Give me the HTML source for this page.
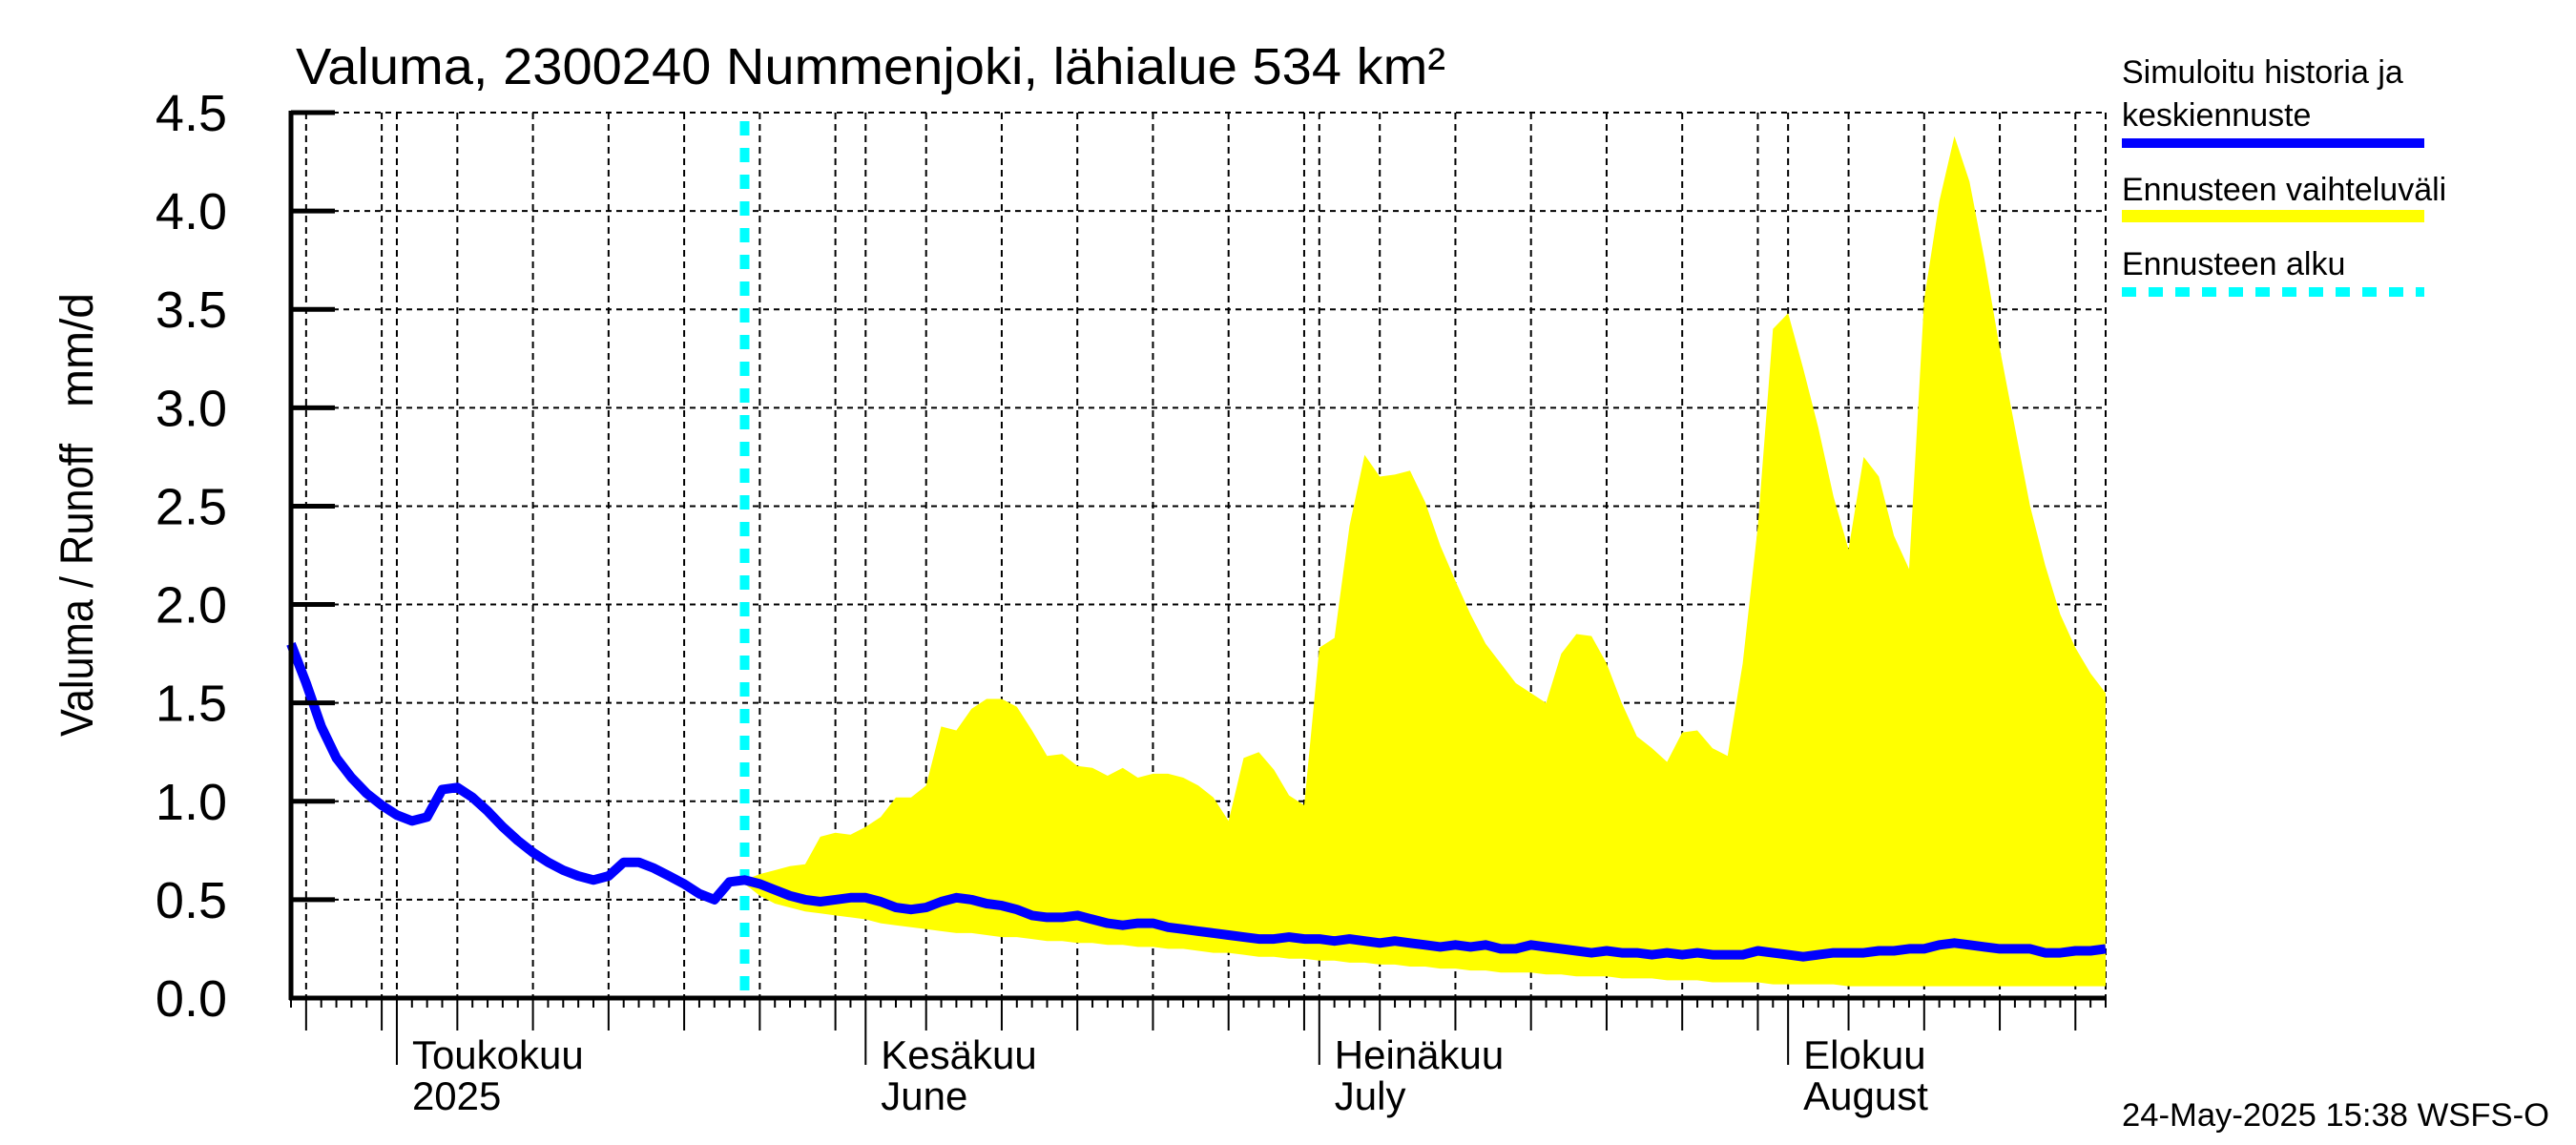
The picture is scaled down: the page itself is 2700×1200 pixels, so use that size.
<!DOCTYPE html>
<html><head><meta charset="utf-8"><style>
html,body{margin:0;padding:0;background:#fff;}
svg{display:block;font-family:"Liberation Sans",sans-serif;}
</style></head><body>
<svg id="chart" width="2700" height="1200" viewBox="0 0 2700 1200" xmlns="http://www.w3.org/2000/svg">
<rect x="0" y="0" width="2700" height="1200" fill="#fff"/>
<g id="grid"></g>
<g id="band"></g>
<g id="series"></g>
<g id="axes"></g>
<text x="310" y="88" font-size="54" textLength="1205" lengthAdjust="spacingAndGlyphs">Valuma, 2300240 Nummenjoki, lähialue 534 km²</text>
<text transform="translate(97,772) rotate(-90)" font-size="48" textLength="307" lengthAdjust="spacingAndGlyphs">Valuma / Runoff</text>
<text transform="translate(97,427) rotate(-90)" font-size="48" textLength="120" lengthAdjust="spacingAndGlyphs">mm/d</text>
<g>
<text x="2224" y="87" font-size="34">Simuloitu historia ja</text>
<text x="2224" y="132" font-size="34">keskiennuste</text>
<rect x="2224" y="145" width="317" height="10" fill="#0000ff"/>
<text x="2224" y="210" font-size="34">Ennusteen vaihteluväli</text>
<rect x="2224" y="220" width="317" height="13" fill="#ffff00"/>
<text x="2224" y="288" font-size="34">Ennusteen alku</text>
<line x1="2224" y1="306" x2="2541" y2="306" stroke="#00ffff" stroke-width="10" stroke-dasharray="15 13"/>
</g>
<text x="2224" y="1180" font-size="34" textLength="448" lengthAdjust="spacingAndGlyphs">24-May-2025 15:38 WSFS-O</text>
</svg>
<script>
// Daily values starting 2025-04-24 (day 0)
const meanValues = [1.80,1.60,1.38,1.22,1.12,1.04,0.98,0.93,0.90,0.92,
1.06,1.07,1.02,0.95,0.87,0.80,0.74,0.69,0.65,0.62,
0.60,0.62,0.69,0.69,0.66,0.62,0.58,0.53,0.50,0.59,
0.60,0.58,0.55,0.52,0.50,0.49,0.50,0.51,0.51,0.49,
0.46,0.45,0.46,0.49,0.51,0.50,0.48,0.47,0.45,0.42,
0.41,0.41,0.42,0.40,0.38,0.37,0.38,0.38,0.36,0.35,
0.34,0.33,0.32,0.31,0.30,0.30,0.31,0.30,0.30,0.29,
0.30,0.29,0.28,0.29,0.28,0.27,0.26,0.27,0.26,0.27,
0.25,0.25,0.27,0.26,0.25,0.24,0.23,0.24,0.23,0.23,
0.22,0.23,0.22,0.23,0.22,0.22,0.22,0.24,0.23,0.22,
0.21,0.22,0.23,0.23,0.23,0.24,0.24,0.25,0.25,0.27,
0.28,0.27,0.26,0.25,0.25,0.25,0.23,0.23,0.24,0.24,0.25];
const forecastStartDay = 30;
const bandUpper = [0.60,0.63,0.65,0.67,0.68,0.82,0.84,0.83,0.87,0.92,
1.02,1.02,1.08,1.38,1.36,1.47,1.52,1.52,1.48,1.36,
1.23,1.24,1.18,1.17,1.13,1.17,1.12,1.14,1.14,1.12,
1.08,1.02,0.90,1.22,1.25,1.16,1.03,0.98,1.78,1.83,
2.40,2.76,2.65,2.66,2.68,2.52,2.30,2.12,1.95,1.80,
1.70,1.60,1.55,1.50,1.75,1.85,1.84,1.70,1.50,1.33,
1.27,1.20,1.35,1.36,1.27,1.23,1.70,2.40,3.40,3.48,
3.20,2.90,2.55,2.28,2.75,2.65,2.35,2.18,3.55,4.05,
4.38,4.15,3.75,3.30,2.90,2.50,2.20,1.95,1.78,1.65,1.55];
const bandLower = [0.58,0.52,0.48,0.46,0.44,0.43,0.42,0.41,0.40,0.38,
0.37,0.36,0.35,0.34,0.33,0.33,0.32,0.31,0.31,0.30,
0.29,0.29,0.28,0.28,0.27,0.27,0.26,0.26,0.25,0.25,
0.24,0.23,0.23,0.22,0.21,0.21,0.20,0.20,0.19,0.19,
0.18,0.18,0.17,0.17,0.16,0.16,0.15,0.15,0.14,0.14,
0.13,0.13,0.13,0.12,0.12,0.11,0.11,0.11,0.10,0.10,
0.10,0.09,0.09,0.09,0.08,0.08,0.08,0.08,0.07,0.07,
0.07,0.07,0.07,0.06,0.06,0.06,0.06,0.06,0.06,0.06,
0.06,0.06,0.06,0.06,0.06,0.06,0.06,0.06,0.06,0.06,0.06];
const yTickValues = [0,0.5,1,1.5,2,2.5,3,3.5,4,4.5];
const yTickLabels = ["0.0","0.5","1.0","1.5","2.0","2.5","3.0","3.5","4.0","4.5"];
const monthStartDays = [7,38,68,99];
const monthLabelsFi = ["Toukokuu","Kesäkuu","Heinäkuu","Elokuu"];
const monthLabelsEn = ["2025","June","July","August"];

const NS="http://www.w3.org/2000/svg";
const X0=305,X1=2207,Y0=1046,Y1=118,DAYS=120,YMAX=4.5;
function xs(d){return X0+d*(X1-X0)/DAYS;}
function ys(v){return Y0-v*(Y0-Y1)/YMAX;}
function mk(tag,attrs,parent){const e=document.createElementNS(NS,tag);for(const k in attrs)e.setAttribute(k,attrs[k]);parent.appendChild(e);return e;}
const grid=document.getElementById('grid'),band=document.getElementById('band'),series=document.getElementById('series'),axes=document.getElementById('axes');

const start=new Date(Date.UTC(2025,3,24));
function dom(d){return new Date(start.getTime()+d*86400000).getUTCDate();}

yTickValues.forEach((v,i)=>{
  const y=ys(v);
  if(v>0){const g=mk('line',{x1:X0,y1:y,x2:X1,y2:y,stroke:'#000','stroke-width':2,'stroke-dasharray':'6 5'},grid);
  
  }
  const t=mk('line',{x1:X0,y1:y,x2:X0+46,y2:y,stroke:'#000','stroke-width':5},axes);
  
  
  const l=mk('text',{x:238,y:y+19,'font-size':54,'text-anchor':'end'},axes);
  l.textContent=yTickLabels[i];
  
  
});
for(let d=0;d<=DAYS;d++){
  const x=xs(d),m=dom(d);
  const isMonth=monthStartDays.includes(d);
  const isFive=(m%5===0);
  if(isMonth||isFive||d===DAYS){
    const g=mk('line',{x1:x,y1:Y1,x2:x,y2:Y0,stroke:'#000','stroke-width':2,'stroke-dasharray':'7 5'},grid);
    
    
  }
  const len=isMonth?70:(isFive?34:10);
  const t=mk('line',{x1:x,y1:Y0,x2:x,y2:Y0+len,stroke:'#000','stroke-width':2},axes);
  
  
}
monthStartDays.forEach((d,i)=>{
  const a=mk('text',{x:xs(d)+16,y:1120,'font-size':42},axes);
  a.textContent=monthLabelsFi[i];
  
  
  const b=mk('text',{x:xs(d)+16,y:1163,'font-size':42},axes);
  b.textContent=monthLabelsEn[i];
  
  
});
let pts=[];
bandUpper.forEach((v,i)=>pts.push(xs(forecastStartDay+i).toFixed(1)+','+ys(v).toFixed(1)));
for(let i=bandLower.length-1;i>=0;i--)pts.push(xs(forecastStartDay+i).toFixed(1)+','+ys(bandLower[i]).toFixed(1));
const poly=mk('polygon',{points:pts.join(' '),fill:'#ffff00',stroke:'none'},band);


const fl=mk('line',{x1:xs(forecastStartDay),y1:127,x2:xs(forecastStartDay),y2:Y0,stroke:'#00ffff','stroke-width':10,'stroke-dasharray':'15 13'},series);


const mp=meanValues.map((v,i)=>xs(i).toFixed(1)+','+ys(v).toFixed(1)).join(' ');
const ml=mk('polyline',{points:mp,fill:'none',stroke:'#0000ff','stroke-width':10,'stroke-linejoin':'round'},series);


const ax=mk('line',{x1:X0,y1:Y1-2,x2:X0,y2:Y0+2,stroke:'#000','stroke-width':5},axes);


const bx=mk('line',{x1:X0-2,y1:Y0,x2:X1,y2:Y0,stroke:'#000','stroke-width':5},axes);


</script>
</body></html>
